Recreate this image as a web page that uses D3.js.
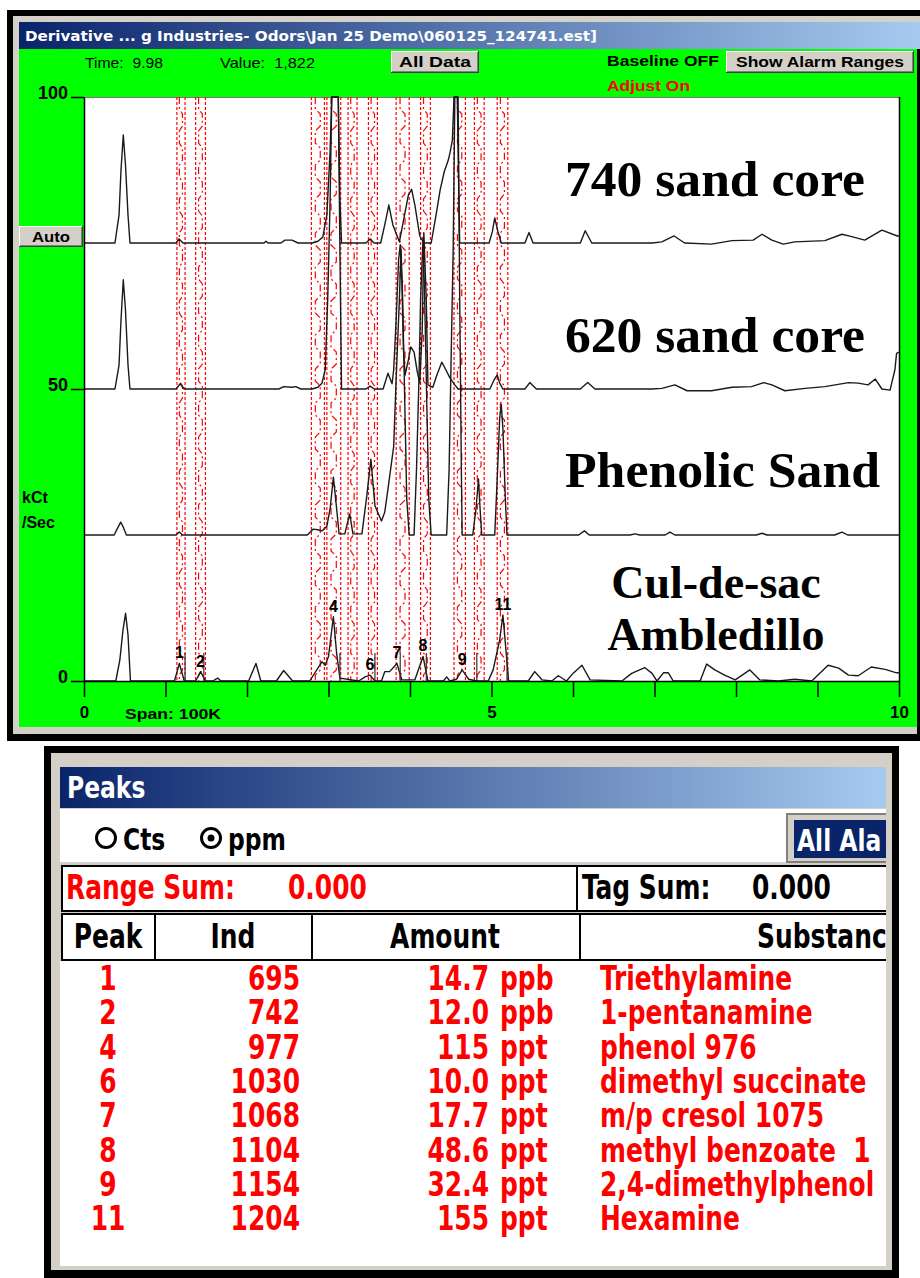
<!DOCTYPE html>
<html><head><meta charset="utf-8">
<script src="https://cdn.jsdelivr.net/npm/d3@7"></script>
<style>body{margin:0;background:#fff;overflow:hidden} svg{display:block} text{white-space:pre}</style>
</head><body><svg id="c" width="920" height="1278"></svg>
<script>
// ---------------- data ----------------
const traceNames = ["740 sand core", "620 sand core", "Phenolic Sand", "Cul-de-sac"];
const traceOffsets = [75, 50, 25, 0];

const time740 = [0,0.38,0.43,0.454,0.482,0.509,0.54,0.564,1.129,1.166,1.215,2.209,2.233,2.258,2.417,2.466,2.552,2.626,2.80,2.87,2.93,2.98,3.02,3.04,3.12,3.14,3.16,3.46,3.51,3.56,3.64,3.69,3.74,3.79,3.87,3.91,3.98,4.02,4.06,4.12,4.17,4.26,4.32,4.37,4.42,4.47,4.49,4.52,4.54,4.58,4.60,4.61,4.97,5.01,5.04,5.08,5.12,5.41,5.46,5.51,6.09,6.15,6.23,6.97,7.09,7.24,7.37,7.70,7.95,8.21,8.32,8.44,8.58,8.72,9.09,9.30,9.42,9.58,9.79,9.98,10];
const kct740 = [0,0,4.8,12.5,18.5,13.4,4.8,0,0,0.7,0,0,0.3,0,0,0.5,0.5,0,0,0.3,1.0,4.8,15.9,28,28,7.4,0,0,0.7,0,0,3.1,6.5,3.1,0.2,3.1,8.2,9.2,6.5,1.2,0,0,4.8,9.1,12.2,14.2,15.4,17.6,28,28,7.4,0,0,1.9,4.3,1.9,0,0,1.8,0,0,2.1,0,0,0.2,1.2,0,-0.2,0.4,0.5,1.5,0.5,-0.2,0.2,0.4,1.5,1.1,0.5,2.2,1.2,1.2];

const time620 = [0,0.38,0.43,0.454,0.482,0.509,0.54,0.564,1.13,1.18,1.23,2.39,2.45,2.55,2.60,2.66,2.80,2.87,2.92,2.96,2.99,3.02,3.04,3.12,3.14,3.16,3.46,3.51,3.56,3.67,3.73,3.78,3.80,3.83,3.86,3.88,3.90,3.92,3.94,3.98,4.01,4.05,4.09,4.12,4.15,4.17,4.20,4.22,4.28,4.33,4.39,4.44,4.49,4.55,4.59,4.98,5.03,5.07,5.10,5.14,5.41,5.47,5.55,6.09,6.18,6.27,6.97,7.09,7.25,7.40,7.70,7.95,8.19,8.34,8.44,8.60,8.85,9.09,9.38,9.50,9.62,9.71,9.79,9.89,9.95,9.97,10];
const kct620 = [0,0,4.1,11.8,18.7,13.5,4.1,0,0,0.9,0,0,0.4,0.3,0.4,0,0,0.3,1.0,3.3,15.2,32.4,53,53,23.8,0,0,0.5,0,0,2.7,0.9,3.3,11.8,22.1,24.7,18.7,6.7,2.4,5.0,7.2,6.3,2.9,1.0,10.1,26.7,15.2,0.7,0.3,2.4,4.6,3.3,1.9,0.7,0,0,1.5,2.4,1.0,0,0,1.1,0,0,1.1,0,0,0.1,0.7,-0.3,-0.3,0.3,0.4,1.1,0.7,-0.3,0.1,0.4,1.1,1.0,0.7,1.7,0,-0.2,3.3,6.1,6.3];

const timePhenolic = [0,0.37,0.42,0.45,0.48,0.52,1.13,1.17,1.21,2.74,2.81,2.87,2.92,2.98,3.02,3.06,3.10,3.13,3.20,3.26,3.30,3.41,3.47,3.52,3.57,3.65,3.69,3.73,3.80,3.83,3.87,3.89,3.91,3.94,3.96,3.99,4.05,4.08,4.11,4.13,4.16,4.18,4.21,4.23,4.26,4.45,4.48,4.50,4.53,4.55,4.59,4.61,4.63,4.64,4.77,4.81,4.84,4.86,4.88,5.04,5.07,5.10,5.12,5.14,5.17,5.19,6.07,6.14,6.20,6.70,6.76,6.82,7.13,7.19,7.25,8.25,8.32,8.38,9.21,9.30,9.37,10];
const kctPhenolic = [0,0,1.4,2.2,1.4,0,0,0.5,0,0,1.0,0.9,0.7,1.5,4.5,9.9,4.5,0.2,0.2,3.6,0.2,0.2,6.7,13.0,5.0,2.4,3.9,7.9,15.2,26.7,40.4,49.0,40.4,19.9,6.2,0,0,11.3,26.7,40.4,51.0,40.4,19.9,6.2,0,0,11.3,26.7,49.0,80,80,40.4,11.3,0,0,4.5,9.6,4.5,0,0,9.6,19.9,22.4,18.2,6.2,0,0,0.7,0,0,0.2,0,0,0.5,0,0,0.3,0,0,0.5,0,0];

const timeCul = [0,0.39,0.44,0.478,0.51,0.54,0.57,1.11,1.17,1.23,1.37,1.43,1.49,1.58,1.64,1.68,2.02,2.11,2.17,2.36,2.45,2.56,2.77,2.92,2.96,3.00,3.06,3.10,3.14,3.37,3.45,3.51,3.57,3.65,3.69,3.75,3.84,3.90,4.06,4.16,4.22,4.41,4.45,4.49,4.57,4.64,4.72,4.82,4.96,5.02,5.10,5.14,5.17,5.21,5.45,5.53,5.62,5.74,5.82,5.92,6.00,6.11,6.21,6.60,6.72,6.88,6.97,7.03,7.11,7.17,7.23,7.56,7.64,7.74,7.86,7.99,8.17,8.29,8.52,8.72,8.93,9.13,9.26,9.38,9.50,9.66,9.83,9.97,10];
const kctCul = [0,0,3.6,8.7,11.6,7.9,0,0,3.0,0,0,1.6,0,0,0.5,0,0,3.0,0,0,1.8,0,0,3.3,2.7,4.2,11.0,4.7,0.5,0,0.7,1.0,0,0,1.6,1.6,3.0,0.2,0.2,4.2,0,0,0.7,0,0.3,1.9,0.3,0,0,1.9,7.0,11.3,6.5,0,0,1.6,0.2,0,0.9,0,1.3,2.7,0.2,0,1.3,2.3,1.3,0,1.4,1.4,0,0,2.9,1.9,1.0,0.2,1.9,0.2,0,0.3,0,2.7,2.2,1.0,0.9,2.4,2.0,1.4,1.4];

const alarmStart = [1.14,1.37,2.79,2.98,3.24,3.49,3.83,4.13,4.54,4.79,5.07];
const alarmEnd   = [1.24,1.49,2.95,3.15,3.35,3.60,3.99,4.25,4.68,4.91,5.20];

const peakLabels = ["1","2","4","6","7","8","9","11"];
const peakLabelTime = [1.17,1.43,3.06,3.51,3.84,4.16,4.64,5.14];
const peakLabelHeight = [3.0,1.6,11.0,1.0,3.0,4.2,1.9,11.3];
const peakMarkerTime = [1.24,1.47,3.14,3.57,3.88,4.20,4.82,5.19];

const xTicks = [0,1,2,3,4,5,6,7,8,9,10];
const xTickLabels = {0:"0",5:"5",10:"10"};
const yTicks = [0,50,100];

// table data
const tblPeak = ["1","2","4","6","7","8","9","11"];
const tblInd = ["695","742","977","1030","1068","1104","1154","1204"];
const tblAmount = ["14.7","12.0","115","10.0","17.7","48.6","32.4","155"];
const tblUnit = ["ppb","ppb","ppt","ppt","ppt","ppt","ppt","ppt"];
const tblSubstance = ["Triethylamine","1-pentanamine","phenol 976","dimethyl succinate","m/p cresol 1075","methyl benzoate  1","2,4-dimethylphenol","Hexamine"];

// ---------------- drawing ----------------
const svg = d3.select("#c");
const defs = svg.append("defs");
function grad(id){
  const g = defs.append("linearGradient").attr("id",id).attr("x1","0").attr("x2","1").attr("y1","0").attr("y2","0");
  g.append("stop").attr("offset","0").attr("stop-color","#0a246a");
  g.append("stop").attr("offset","1").attr("stop-color","#a6caf0");
}
grad("tb1"); grad("tb2");

const SANS = "'Liberation Sans', Arial, sans-serif";
const NARROW = "'DejaVu Sans Condensed', 'Liberation Sans Narrow', sans-serif";

// window frame
svg.append("rect").attr("x",7).attr("y",10).attr("width",913).attr("height",731).attr("fill","#000");
svg.append("rect").attr("x",13).attr("y",16).attr("width",907).attr("height",718).attr("fill","#d4d0c8");
svg.append("rect").attr("x",19).attr("y",22).attr("width",901).attr("height",27).attr("fill","url(#tb1)");
svg.append("text").attr("x",25).attr("y",41).attr("fill","#fff").attr("font-family","'DejaVu Sans', Verdana, sans-serif")
  .attr("font-weight","bold").attr("font-size",14).attr("textLength",572).attr("lengthAdjust","spacingAndGlyphs")
  .text("Derivative ... g Industries- Odors\\Jan 25 Demo\\060125_124741.est]");
svg.append("rect").attr("x",19).attr("y",49).attr("width",898).attr("height",678).attr("fill","#00ff00");
svg.append("rect").attr("x",917).attr("y",49).attr("width",3).attr("height",685).attr("fill","#000");

function txt(x,y,s,opt){
  opt = opt||{};
  const t = svg.append("text").attr("x",x).attr("y",y).text(s)
    .attr("font-family",opt.family||SANS).attr("font-size",opt.size||13)
    .attr("font-weight",opt.weight||"normal").attr("fill",opt.fill||"#000");
  if(opt.anchor) t.attr("text-anchor",opt.anchor);
  if(opt.len) t.attr("textLength",opt.len).attr("lengthAdjust","spacingAndGlyphs");
  return t;
}
function button(x,y,w,h,label,len){
  svg.append("rect").attr("x",x).attr("y",y).attr("width",w).attr("height",h).attr("fill","#404040");
  svg.append("rect").attr("x",x).attr("y",y).attr("width",w-1).attr("height",h-1).attr("fill","#fff");
  svg.append("rect").attr("x",x+1).attr("y",y+1).attr("width",w-2).attr("height",h-2).attr("fill","#808080");
  svg.append("rect").attr("x",x+1).attr("y",y+1).attr("width",w-3).attr("height",h-3).attr("fill","#d4d0c8");
  txt(x+w/2, y+h/2+5, label, {weight:"bold", size:15, anchor:"middle", len:len});
}
txt(85,68,"Time:  9.98",{size:15,len:78});
txt(220,68,"Value:  1,822",{size:15,len:95});
button(391,51,88,22,"All Data",72);
txt(607,66,"Baseline OFF",{weight:"bold",size:15,len:112});
button(726,51,188,22,"Show Alarm Ranges",168);
txt(607,91,"Adjust On",{weight:"bold",size:15,fill:"#ff0000",len:83});

// plot area
const L=84, R=899, T=97, B=681;
const x = d3.scaleLinear().domain([0,10]).range([L,R]);
const y = d3.scaleLinear().domain([0,100]).range([B,T]).clamp(true);

svg.append("rect").attr("x",L).attr("y",T).attr("width",R-L).attr("height",B-T).attr("fill","#fff");
svg.append("line").attr("x1",L).attr("x2",R).attr("y1",T+0.5).attr("y2",T+0.5).attr("stroke","#777");
svg.append("line").attr("x1",R+0.5).attr("x2",R+0.5).attr("y1",T).attr("y2",B).attr("stroke","#000").attr("stroke-width",1.5);

// alarm bands
const bandG = svg.append("g").attr("stroke","#ff0000").attr("fill","none").attr("stroke-width",1.2);
alarmStart.forEach((s,i)=>{
  const x0 = x(s), x1 = x(alarmEnd[i]), w = x1-x0;
  bandG.append("line").attr("x1",x0).attr("x2",x0).attr("y1",T).attr("y2",B).attr("stroke-dasharray","3,2");
  bandG.append("line").attr("x1",x1).attr("x2",x1).attr("y1",T).attr("y2",B).attr("stroke-dasharray","3,2");
  const pts = [];
  let yy = T, k = 0;
  while(yy < B){
    const xa = x0 + w*(k%2===0?0.3:0.68);
    pts.push([xa,yy]); pts.push([xa,Math.min(B,yy+12)]);
    yy += 17; k++;
  }
  bandG.append("path").attr("d",d3.line()(pts)).attr("stroke-dasharray","7,3,2,3");
});

// traces
const series = [
  {t:time740, v:kct740},
  {t:time620, v:kct620},
  {t:timePhenolic, v:kctPhenolic},
  {t:timeCul, v:kctCul}
];
const line = d3.line().x(d=>x(d[0])).y(d=>y(d[1]));
series.forEach((s,i)=>{
  const pts = s.t.map((tt,j)=>[tt, s.v[j] + traceOffsets[i]]);
  svg.append("path").attr("d",line(pts)).attr("fill","none").attr("stroke","#1a1a1a")
    .attr("stroke-width",1.4).attr("stroke-linejoin","round");
});

// peak markers and labels
peakMarkerTime.forEach(t=>{
  svg.append("line").attr("x1",x(t)).attr("x2",x(t)).attr("y1",y(0)).attr("y2",y(4.8))
    .attr("stroke","#333").attr("stroke-width",1.2);
});
peakLabels.forEach((lab,i)=>{
  txt(x(peakLabelTime[i]), y(peakLabelHeight[i]) - 5, lab, {weight:"bold", size:16, anchor:"middle"});
});

// sample names
const SERIF = "'Liberation Serif', 'Times New Roman', serif";
txt(565,196,traceNames[0],{family:SERIF,weight:"bold",size:50,len:300});
txt(565,352,traceNames[1],{family:SERIF,weight:"bold",size:50,len:300});
txt(565,487,traceNames[2],{family:SERIF,weight:"bold",size:50,len:315});
txt(716,598,traceNames[3],{family:SERIF,weight:"bold",size:46,anchor:"middle"});
txt(716,650,"Ambledillo",{family:SERIF,weight:"bold",size:46,anchor:"middle"});

// axes
const xAxis = d3.axisBottom(x).tickValues(xTicks).tickSize(16).tickSizeOuter(0).tickPadding(9)
  .tickFormat(d=>xTickLabels[d]||"");
const gx = svg.append("g").attr("transform",`translate(0,${B})`).call(xAxis);
gx.selectAll("path, line").attr("stroke","#000").attr("stroke-width",1.5);
gx.selectAll("text").attr("font-family",SANS).attr("font-weight","bold").attr("font-size",17).attr("fill","#000");

const yAxis = d3.axisLeft(y).tickValues(yTicks).tickSize(13).tickSizeOuter(0).tickPadding(3);
const gy = svg.append("g").attr("transform",`translate(${L},0)`).call(yAxis);
gy.selectAll("path, line").attr("stroke","#000").attr("stroke-width",1.5);
gy.selectAll("text").attr("font-family",SANS).attr("font-weight","bold").attr("font-size",18).attr("fill","#000").attr("dy","0.1em");

txt(125,719,"Span: 100K",{weight:"bold",size:15,len:96});
txt(22,503,"kCt",{weight:"bold",size:16});
txt(22,528,"/Sec",{weight:"bold",size:16});
button(19,226,64,21,"Auto",38);

// ---------------- Peaks table ----------------
svg.append("rect").attr("x",44).attr("y",746).attr("width",855).attr("height",532).attr("fill","#000");
svg.append("rect").attr("x",51).attr("y",753).attr("width",841).attr("height",517).attr("fill","#d4d0c8");
svg.append("rect").attr("x",60).attr("y",767).attr("width",826).attr("height",41).attr("fill","url(#tb2)");
svg.append("rect").attr("x",60).attr("y",809).attr("width",826).attr("height",53).attr("fill","#fff");
svg.append("circle").attr("cx",106).attr("cy",838).attr("r",9.5).attr("fill","none").attr("stroke","#000").attr("stroke-width",3);
svg.append("circle").attr("cx",211).attr("cy",838).attr("r",9.5).attr("fill","none").attr("stroke","#000").attr("stroke-width",3);
svg.append("circle").attr("cx",211).attr("cy",838).attr("r",3.5).attr("fill","#000");
// All Alarms button
svg.append("rect").attr("x",786).attr("y",813).attr("width",100).attr("height",50).attr("fill","#808080");
svg.append("rect").attr("x",788).attr("y",815).attr("width",98).attr("height",46).attr("fill","#d4d0c8");
svg.append("rect").attr("x",794).attr("y",820).attr("width",92).attr("height",38).attr("fill","#0a246a");
const clipA = defs.append("clipPath").attr("id","clipA");
clipA.append("rect").attr("x",60).attr("y",760).attr("width",826).attr("height",510);
const tg = svg.append("g").attr("clip-path","url(#clipA)");
function ttxt(x,y,s,opt){
  opt=opt||{};
  const t = tg.append("text").attr("transform",`translate(${x},${y}) scale(0.84,1)`).text(s)
    .attr("font-family",NARROW).attr("font-weight","bold").attr("font-size",opt.size||33)
    .attr("fill",opt.fill||"#000");
  if(opt.anchor) t.attr("text-anchor",opt.anchor);
  return t;
}
ttxt(67,798,"Peaks",{fill:"#fff",size:31});
ttxt(123,850,"Cts",{size:31});
ttxt(228,850,"ppm",{size:31});
ttxt(797,851,"All Ala",{fill:"#fff",size:31});

// sums row
tg.append("rect").attr("x",62).attr("y",866).attr("width",515).attr("height",45).attr("fill","#fff").attr("stroke","#000").attr("stroke-width",2);
tg.append("rect").attr("x",577).attr("y",866).attr("width",320).attr("height",45).attr("fill","#fff").attr("stroke","#000").attr("stroke-width",2);
ttxt(66,899,"Range Sum:",{fill:"#ff0000"});
ttxt(288,899,"0.000",{fill:"#ff0000"});
ttxt(582,899,"Tag Sum:");
ttxt(752,899,"0.000");

// header row
const colEdges = [62,155,312,580,897];
const headers = ["Peak","Ind","Amount","Substance"];
for(let i=0;i<4;i++){
  tg.append("rect").attr("x",colEdges[i]).attr("y",914).attr("width",colEdges[i+1]-colEdges[i]).attr("height",46)
    .attr("fill","#fff").attr("stroke","#000").attr("stroke-width",2);
}
ttxt(108,948,headers[0],{anchor:"middle"});
ttxt(233,948,headers[1],{anchor:"middle"});
ttxt(445,948,headers[2],{anchor:"middle"});
ttxt(757,948,headers[3]);

// rows
tg.append("rect").attr("x",60).attr("y",961).attr("width",826).attr("height",305).attr("fill","#fff");
const rowY = d3.scaleLinear().domain([0,1]).range([990,1024.3]);
tblPeak.forEach((p,i)=>{
  const yy = rowY(i);
  ttxt(108,yy,p,{fill:"#ff0000",anchor:"middle"});
  ttxt(300,yy,tblInd[i],{fill:"#ff0000",anchor:"end"});
  ttxt(489,yy,tblAmount[i],{fill:"#ff0000",anchor:"end"});
  ttxt(500,yy,tblUnit[i],{fill:"#ff0000"});
  ttxt(600,yy,tblSubstance[i],{fill:"#ff0000"});
});
</script></body></html>
